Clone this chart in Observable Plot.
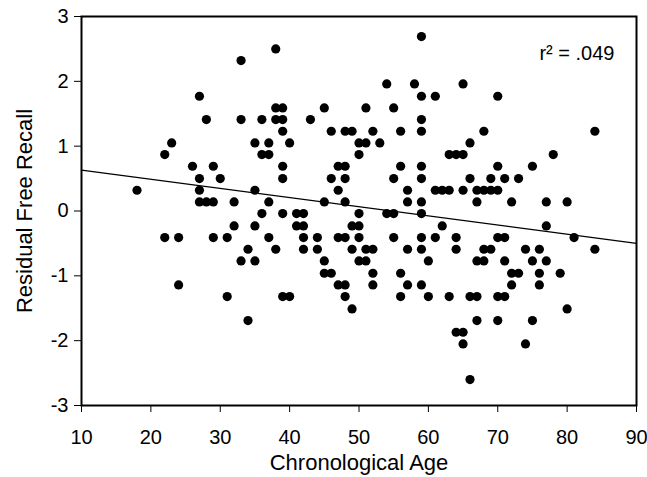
<!DOCTYPE html>
<html>
<head>
<meta charset="utf-8">
<script src="https://cdn.jsdelivr.net/npm/d3@7"></script>
<script src="https://cdn.jsdelivr.net/npm/@observablehq/plot@0.6"></script>
<style>
  html, body { margin: 0; padding: 0; background: white; }
</style>
</head>
<body>
<div id="chart"></div>
<script>
// Scatter points (age, residual free recall)
const age = [
  59,
  38,
  33,
  54, 58, 65,
  27, 59, 61, 70,
  38, 39, 45, 51, 55,
  28, 33, 36, 38, 39, 43, 59,
  39, 46, 48, 49, 52, 56, 59, 68, 84,
  23, 35, 37, 40, 50, 51, 53, 66,
  22, 36, 37, 50, 63, 64, 65, 78,
  26, 29, 39, 47, 48, 56, 59, 70, 75,
  27, 30, 39, 46, 48, 55, 59, 66, 69, 71, 73,
  18, 27, 35, 47, 57, 61, 62, 63, 65, 67, 68, 69, 70,
  27, 28, 29, 32, 37, 45, 48, 57, 59, 67, 72, 77, 80,
  36, 39, 41, 42, 50, 54, 55, 59,
  32, 35, 41, 42, 49, 50, 62, 77,
  22, 24, 29, 31, 37, 42, 44, 47, 48, 50, 55, 59, 61, 64, 70, 71, 81,
  34, 38, 42, 44, 49, 51, 52, 57, 59, 64, 68, 69, 74, 76, 84,
  33, 35, 45, 50, 51, 60, 67, 68, 71, 75, 77,
  45, 46, 52, 56, 72, 73, 76, 79,
  24, 47, 48, 52, 57, 59, 72, 76,
  31, 39, 40, 48, 56, 60, 63, 66, 67, 70, 71,
  49, 80,
  34, 67, 70, 75,
  64, 65,
  65, 74,
  66
];
const residual = [
  2.69,
  2.50,
  2.32,
  1.96, 1.96, 1.96,
  1.77, 1.77, 1.77, 1.77,
  1.59, 1.59, 1.59, 1.59, 1.59,
  1.41, 1.41, 1.41, 1.41, 1.41, 1.41, 1.41,
  1.23, 1.23, 1.23, 1.23, 1.23, 1.23, 1.23, 1.23, 1.23,
  1.05, 1.05, 1.05, 1.05, 1.05, 1.05, 1.05, 1.05,
  0.87, 0.87, 0.87, 0.87, 0.87, 0.87, 0.87, 0.87,
  0.69, 0.69, 0.69, 0.69, 0.69, 0.69, 0.69, 0.69, 0.69,
  0.50, 0.50, 0.50, 0.50, 0.50, 0.50, 0.50, 0.50, 0.50, 0.50, 0.50,
  0.32, 0.32, 0.32, 0.32, 0.32, 0.32, 0.32, 0.32, 0.32, 0.32, 0.32, 0.32, 0.32,
  0.14, 0.14, 0.14, 0.14, 0.14, 0.14, 0.14, 0.14, 0.14, 0.14, 0.14, 0.14, 0.14,
  -0.04, -0.04, -0.04, -0.04, -0.04, -0.04, -0.04, -0.04,
  -0.23, -0.23, -0.23, -0.23, -0.23, -0.23, -0.23, -0.23,
  -0.41, -0.41, -0.41, -0.41, -0.41, -0.41, -0.41, -0.41, -0.41, -0.41, -0.41, -0.41, -0.41, -0.41, -0.41, -0.41, -0.41,
  -0.59, -0.59, -0.59, -0.59, -0.59, -0.59, -0.59, -0.59, -0.59, -0.59, -0.59, -0.59, -0.59, -0.59, -0.59,
  -0.77, -0.77, -0.77, -0.77, -0.77, -0.77, -0.77, -0.77, -0.77, -0.77, -0.77,
  -0.96, -0.96, -0.96, -0.96, -0.96, -0.96, -0.96, -0.96,
  -1.14, -1.14, -1.14, -1.14, -1.14, -1.14, -1.14, -1.14,
  -1.32, -1.32, -1.32, -1.32, -1.32, -1.32, -1.32, -1.32, -1.32, -1.32, -1.32,
  -1.51, -1.51,
  -1.69, -1.69, -1.69, -1.69,
  -1.87, -1.87,
  -2.05, -2.05,
  -2.60
];

// Fitted regression line, end points
const fitAge = [10, 90];
const fitResidual = [0.63, -0.50];

// Axis ticks and texts
const xTicks = [10, 20, 30, 40, 50, 60, 70, 80, 90];
const yTicks = [-3, -2, -1, 0, 1, 2, 3];
const xTitle = "Chronological Age";
const yTitle = "Residual Free Recall";
const annotation = "r\u00B2 = .049";

const points = age.map((a, i) => ({age: a, residual: residual[i]}));
const fit = fitAge.map((a, i) => ({age: a, residual: fitResidual[i]}));

const chart = Plot.plot({
  width: 647,
  height: 477,
  marginLeft: 81,
  marginRight: 11,
  marginTop: 16,
  marginBottom: 72,
  style: {fontFamily: "'Liberation Sans', Arial, sans-serif", fontSize: "18px", color: "black", background: "white"},
  x: {domain: [10, 90]},
  y: {domain: [-3, 3]},
  marks: [
    Plot.axisX(xTicks, {anchor: "bottom", tickSize: 7, tickPadding: 17, fontSize: 20, label: null, tickFormat: d => String(d)}),
    Plot.axisY(yTicks, {anchor: "left", tickSize: 7, tickPadding: 6, fontSize: 20, label: null, tickFormat: d => String(d)}),
    Plot.line(fit, {x: "age", y: "residual", stroke: "black", strokeWidth: 1.2}),
    Plot.dot(points, {x: "age", y: "residual", r: 4.6, fill: "black", stroke: "none"}),
    Plot.frame({stroke: "black", strokeWidth: 2}),
    Plot.text([annotation], {text: d => d, frameAnchor: "top-right", dx: -22, dy: 29, textAnchor: "end", fontSize: 20}),
    Plot.text([xTitle], {text: d => d, frameAnchor: "bottom", dy: 64, fontSize: 22}),
    Plot.text([yTitle], {text: d => d, frameAnchor: "left", dx: -57, rotate: -90, textAnchor: "middle", fontSize: 22})
  ]
});
document.getElementById("chart").appendChild(chart);
</script>
</body>
</html>
